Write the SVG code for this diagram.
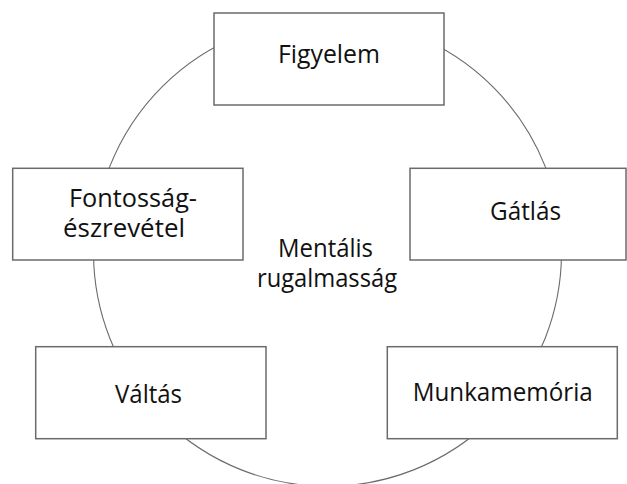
<svg xmlns="http://www.w3.org/2000/svg" width="627" height="484" viewBox="0 0 627 484">
<style>
.box{fill:#fff;stroke:#6b6b6b;stroke-width:1.5}
.ring{fill:none;stroke:#6b6b6b;stroke-width:1.1}
text{font-family:"Open Sans","Noto Sans","Liberation Sans",sans-serif;font-size:25.5px;fill:#111;text-anchor:middle}
</style>
<rect width="627" height="484" fill="#fff"/>
<g id="connectors">
<circle class="ring" cx="327.5" cy="252.3" r="234"/>
</g>
<g id="center">
<text x="325.5" y="257" textLength="95" lengthAdjust="spacingAndGlyphs">Mentális</text>
<text x="327" y="287" textLength="140" lengthAdjust="spacingAndGlyphs">rugalmasság</text>
</g>
<g id="figyelem">
<rect class="box" x="214" y="13" width="230" height="92"/>
<text x="329" y="63" textLength="102" lengthAdjust="spacingAndGlyphs">Figyelem</text>
</g>
<g id="fontossag">
<rect class="box" x="12.7" y="168.3" width="230.3" height="91.7"/>
<text x="133" y="207" textLength="128" lengthAdjust="spacingAndGlyphs">Fontosság-</text>
<text x="124" y="236.5" textLength="122" lengthAdjust="spacingAndGlyphs">észrevétel</text>
</g>
<g id="gatlas">
<rect class="box" x="410" y="168.3" width="216" height="91.7"/>
<text x="525.5" y="220" textLength="71" lengthAdjust="spacingAndGlyphs">Gátlás</text>
</g>
<g id="valtas">
<rect class="box" x="35.7" y="346.7" width="230.3" height="92"/>
<text x="148.5" y="403" textLength="67" lengthAdjust="spacingAndGlyphs">Váltás</text>
</g>
<g id="munkamemoria">
<rect class="box" x="387.3" y="346.7" width="230" height="92"/>
<text x="502.7" y="401" textLength="180" lengthAdjust="spacingAndGlyphs">Munkamemória</text>
</g>
</svg>
